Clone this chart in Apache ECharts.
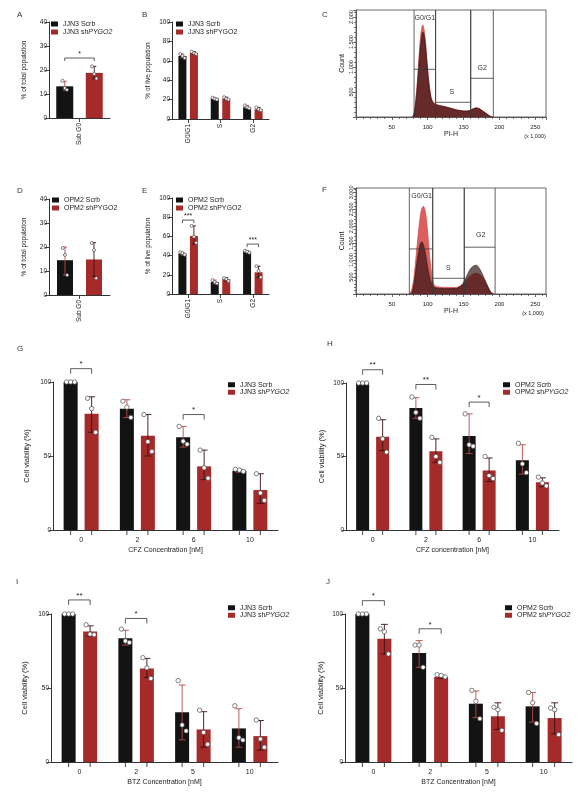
<!DOCTYPE html>
<html>
<head>
<meta charset="utf-8">
<script src="https://cdn.jsdelivr.net/npm/echarts@6/dist/echarts.min.js"></script>
<style>html,body{margin:0;padding:0;background:#ffffff;}#chart{width:581px;height:800px;}</style>
</head>
<body>
<div id="chart"></div>
<script>
// ===== categories / tick labels =====
const subG0Cats = ['Sub G0'];
const phaseCats = ['G0/G1', 'S', 'G2'];
const cfzCats = ['0', '2', '6', '10'];
const btzCats = ['0', '2', '5', '10'];
const namesJJN3 = ['JJN3 Scrb', 'JJN3 shPYGO2'];
const namesOPM2 = ['OPM2 Scrb', 'OPM2 shPYGO2'];

// ===== A: JJN3 Sub G0 (% of total population) =====
const aScrb = [13.2];
const aSh = [18.8];
const aScrbErr = [[11.5, 15.3]];
const aShErr = [[16.3, 21.5]];
const aScrbPts = [[15.5, 12.5, 11.8]];
const aShPts = [[21.5, 18.3, 16.5]];
const aSig = [[0, 25, '*']];

// ===== B: JJN3 cell cycle (% of live population) =====
const bScrb = [65, 21, 12];
const bSh = [68, 21, 10];
const bScrbErr = [[63, 67], [20, 22], [11, 14]];
const bShErr = [[67, 69.5], [20, 22.5], [9, 12]];
const bScrbPts = [[67, 65, 63], [22, 21, 20], [14, 12, 11]];
const bShPts = [[69.5, 68, 67], [22.5, 21, 20], [12, 10, 9]];

// ===== D: OPM2 Sub G0 =====
const dScrb = [14.5];
const dSh = [14.8];
const dScrbErr = [[8.3, 20]];
const dShErr = [[7.8, 21.8]];
const dScrbPts = [[19.6, 16.7, 8.3]];
const dShPts = [[21.7, 18.7, 7]];

// ===== E: OPM2 cell cycle =====
const eScrb = [42, 12.5, 44];
const eSh = [60.5, 15.5, 22.6];
const eScrbErr = [[40.5, 43.5], [10.5, 14.5], [43, 45]];
const eShErr = [[52, 71], [13.5, 17], [17, 29]];
const eScrbPts = [[43.5, 42.5, 41], [14.5, 12.5, 11], [45, 44, 43]];
const eShPts = [[71, 59.7, 53.4], [16.5, 15.5, 13.5], [29, 24, 17.5]];
const eSig = [[0, 77, '***'], [2, 52, '***']];

// ===== G: JJN3 CFZ viability =====
const gScrb = [100, 82, 62.6, 40];
const gSh = [78.5, 63.7, 43, 27];
const gScrbErr = [[100, 100], [76, 88], [56, 70], [39, 41]];
const gShErr = [[66, 90], [50, 78], [34, 54], [18, 38]];
const gScrbPts = [[100, 100, 100], [87, 83, 76], [70, 60, 58], [41, 40.5, 39.5]];
const gShPts = [[89, 82, 66], [78, 59.7, 53], [54, 42, 35], [38, 25, 20]];
const gSig = [[0, 109, '*'], [2, 78, '*']];

// ===== H: OPM2 CFZ viability =====
const hScrb = [100, 83, 64, 47.5];
const hSh = [63.5, 53.5, 40.5, 32.5];
const hScrbErr = [[100, 100], [76, 90], [52, 79], [38, 58]];
const hShErr = [[54, 75], [46, 62], [33, 49], [29.5, 35.5]];
const hScrbPts = [[100, 100, 100], [90.5, 80, 76], [79, 58, 57], [59, 45, 39]];
const hShPts = [[76, 62, 53], [63, 50, 46], [50, 37, 35], [36, 32, 30]];
const hSig = [[0, 109, '**'], [1, 99, '**'], [2, 87, '*']];

// ===== I: JJN3 BTZ viability =====
const iScrb = [100, 83.6, 33.6, 22.7];
const iSh = [88.2, 63.2, 22, 17.5];
const iScrbErr = [[100, 100], [79, 89], [15, 52], [10, 36]];
const iShErr = [[85, 92], [57, 70], [10, 34], [8, 28]];
const iScrbPts = [[100, 100, 100], [89.8, 81.8, 80.7], [55, 25, 21], [38, 16.4, 14.8]];
const iShPts = [[92.7, 86.4, 86], [70.5, 63.6, 56.4], [35, 20, 12], [28.4, 15.5, 10]];
const iSig = [[0, 109.5, '**'], [1, 97, '*']];

// ===== J: OPM2 BTZ viability =====
const jScrb = [100, 73.6, 39.4, 37.6];
const jSh = [83.3, 57.4, 30.9, 29.7];
const jScrbErr = [[100, 100], [64, 82], [30, 48], [27, 47]];
const jShErr = [[73, 93], [56.5, 58.5], [22, 40], [19, 40]];
const jScrbPts = [[100, 100, 100], [79, 79, 64], [48.4, 41, 29.3], [47, 40, 26]];
const jShPts = [[90, 88, 73], [59, 58.5, 57.5], [37, 35.4, 21.4], [36.5, 35.4, 18.5]];
const jSig = [[0, 109, '*'], [1, 90, '*']];

// ===== C: JJN3 PI histogram =====
const cBins = [79, 81, 83, 85, 87, 89, 91, 93, 95, 97, 99, 101, 103, 105, 107, 110, 115, 120, 125, 130, 135, 140, 145, 150, 155, 160, 164, 168, 172, 176, 180, 184, 188, 191];
const cScrbCounts = [0, 60, 250, 520, 900, 1280, 1550, 1700, 1640, 1420, 1080, 760, 520, 360, 300, 255, 230, 215, 200, 180, 160, 140, 128, 118, 118, 135, 165, 180, 165, 125, 85, 45, 10, 0];
const cShCounts = [0, 80, 300, 600, 1000, 1420, 1720, 1840, 1740, 1480, 1120, 790, 540, 375, 310, 265, 238, 222, 207, 187, 166, 146, 133, 122, 121, 138, 168, 184, 168, 128, 88, 47, 11, 0];
const cGates = [[81, 111, 954], [111, 160, 294], [160, 191.5, 774]];
const cGateLabels = [['G0/G1', 96, 1974], ['S', 133.5, 506], ['G2', 176, 974]];

// ===== F: OPM2 PI histogram =====
const fBins = [75, 78, 81, 84, 87, 90, 92, 94, 96, 98, 100, 102, 104, 106, 108, 110, 115, 120, 130, 140, 148, 152, 156, 160, 164, 168, 172, 176, 180, 184, 188, 192];
const fScrbCounts = [0, 30, 300, 800, 1200, 1500, 1540, 1450, 1290, 1050, 780, 560, 400, 290, 220, 185, 170, 165, 160, 165, 280, 430, 600, 750, 830, 850, 760, 600, 410, 220, 50, 0];
const fShCounts = [0, 150, 500, 1150, 1800, 2350, 2530, 2590, 2500, 2230, 1800, 1250, 850, 520, 330, 240, 205, 195, 190, 195, 260, 360, 460, 540, 590, 610, 580, 500, 360, 200, 60, 0];
const fGates = [[74.4, 107, 1331], [107, 151, 464], [151, 194, 1382]];
const fGateLabels = [['G0/G1', 91.6, 2879], ['S', 128.8, 760], ['G2', 174, 1746]];

// ===== styling / building =====
const FONT = '"Liberation Sans", Arial, sans-serif';
const BLACK = '#131313';
const RED = '#a52a2a';
const ERR_ON_BLACK = '#b84a4a';
const ERR_ON_RED = '#3a1010';
const TXT = '#222';

const grids = [], xAxes = [], yAxes = [], series = [], legends = [];

function errSeries(gi, err, pts, off, color, st) {
  return {
    type: 'custom', xAxisIndex: gi, yAxisIndex: gi, z: 4, silent: true, clip: false,
    data: err.map((e, i) => [i, e[0], e[1]]),
    renderItem: function (params, api) {
      const i = params.dataIndex;
      const lo = api.coord([i, err[i][0]]);
      const hi = api.coord([i, err[i][1]]);
      const x = lo[0] + off;
      const cw = st.cap;
      const ls = { stroke: color, lineWidth: 0.9 };
      const ch = [
        { type: 'line', shape: { x1: x, y1: lo[1], x2: x, y2: hi[1] }, style: ls },
        { type: 'line', shape: { x1: x - cw, y1: hi[1], x2: x + cw, y2: hi[1] }, style: ls },
        { type: 'line', shape: { x1: x - cw, y1: lo[1], x2: x + cw, y2: lo[1] }, style: ls }
      ];
      pts[i].forEach((v, k) => {
        const p = api.coord([i, v]);
        ch.push({ type: 'circle', shape: { cx: x + st.jit[k], cy: p[1], r: st.r },
          style: { fill: '#ffffff', stroke: '#4a4a4a', lineWidth: 0.7 } });
      });
      return { type: 'group', children: ch };
    }
  };
}

function sigSeries(gi, sig, d, leg, fs) {
  return {
    type: 'custom', xAxisIndex: gi, yAxisIndex: gi, z: 5, silent: true, clip: false,
    data: sig.map(s => [s[0], s[1]]),
    renderItem: function (params, api) {
      const s = sig[params.dataIndex];
      const p = api.coord([s[0], s[1]]);
      const x1 = p[0] - d / 2, x2 = p[0] + d / 2, y = p[1];
      return { type: 'group', children: [
        { type: 'polyline', shape: { points: [[x1, y + leg], [x1, y], [x2, y], [x2, y + leg]] },
          style: { stroke: '#333', lineWidth: 0.8, fill: null } },
        { type: 'text', style: { text: s[2], x: (x1 + x2) / 2, y: y - 0.5, align: 'center', verticalAlign: 'bottom',
          fontSize: fs, fontFamily: FONT, fill: TXT } }
      ] };
    }
  };
}

function barTickSeries(gi, cats, d) {
  return {
    type: 'custom', xAxisIndex: gi, yAxisIndex: gi, z: 1, silent: true, clip: false,
    data: cats.map((c, i) => [i, 0]),
    renderItem: function (params, api) {
      const p = api.coord([params.dataIndex, 0]);
      return { type: 'group', children: [-1, 1].map(sg => ({
        type: 'line', shape: { x1: p[0] + sg * d / 2, y1: p[1], x2: p[0] + sg * d / 2, y2: p[1] + 5 },
        style: { stroke: '#333', lineWidth: 0.9 } })) };
    }
  };
}

function addLegend(names, left, top, italic, lh) {
  legends.push({
    data: names, left: left, top: top, orient: 'vertical', padding: 0, itemGap: 0,
    itemWidth: 7, itemHeight: 5, icon: 'rect', selectedMode: false,
    formatter: function (name) {
      if (italic && name.endsWith('PYGO2')) return '{n|' + name.slice(0, -5) + '}{i|PYGO2}';
      return '{n|' + name + '}';
    },
    textStyle: { fontFamily: FONT, fontSize: 7, color: TXT, lineHeight: lh,
      rich: { n: { fontFamily: FONT, fontSize: 7, color: TXT, lineHeight: lh },
              i: { fontFamily: FONT, fontSize: 7, color: TXT, lineHeight: lh, fontStyle: 'italic' } } }
  });
}

function addBarPanel(c) {
  const gi = grids.length;
  grids.push({ left: c.left, top: c.top, width: c.width, height: c.height, containLabel: false, outerBoundsMode: 'none' });
  xAxes.push({
    gridIndex: gi, type: 'category', data: c.cats,
    name: c.xName || '', nameLocation: 'middle', nameGap: 17,
    nameTextStyle: { fontFamily: FONT, fontSize: 7, color: TXT },
    axisLine: { show: true, lineStyle: { color: '#333', width: 1 } },
    axisTick: { show: !c.barTicks, alignWithLabel: true, length: 4, lineStyle: { color: '#333', width: 0.9 } },
    axisLabel: { fontFamily: FONT, fontSize: c.small ? 6.5 : 7, color: TXT, rotate: c.small ? 90 : 0,
      margin: c.small ? 5 : 7, interval: 0 },
    splitLine: { show: false }
  });
  yAxes.push({
    gridIndex: gi, type: 'value', min: 0, max: c.ymax, interval: c.yint,
    name: c.yName, nameLocation: 'middle', nameGap: c.yNameGap,
    nameTextStyle: { fontFamily: FONT, fontSize: c.small ? 6.5 : 7.5, color: TXT },
    axisLine: { show: true, lineStyle: { color: '#333', width: 1 } },
    axisTick: { show: true, length: 4, lineStyle: { color: '#333', width: 0.9 } },
    axisLabel: { fontFamily: FONT, fontSize: 6.5, color: TXT, margin: 2 },
    splitLine: { show: false }
  });
  const gap = ((c.d - c.bw) / c.bw * 100) + '%';
  series.push({ type: 'bar', name: c.names[0], xAxisIndex: gi, yAxisIndex: gi, data: c.scrb,
    barWidth: c.bw, barGap: gap, itemStyle: { color: BLACK }, z: 2, silent: true });
  series.push({ type: 'bar', name: c.names[1], xAxisIndex: gi, yAxisIndex: gi, data: c.sh,
    barWidth: c.bw, barGap: gap, itemStyle: { color: RED }, z: 2, silent: true });
  const st = c.small ? { cap: 2, r: 1.5, jit: [-2.2, 0, 2.2] } : { cap: 3.5, r: 2.2, jit: [-4, 0, 4] };
  series.push(errSeries(gi, c.scrbErr, c.scrbPts, -c.d / 2, ERR_ON_BLACK, st));
  series.push(errSeries(gi, c.shErr, c.shPts, c.d / 2, ERR_ON_RED, st));
  if (c.sig) series.push(sigSeries(gi, c.sig, c.d, c.small ? 3 : 5, c.small ? 7 : 8));
  if (c.barTicks) series.push(barTickSeries(gi, c.cats, c.d));
}

function addHistPanel(c) {
  const gi = grids.length;
  grids.push({ left: c.left, top: c.top, width: c.width, height: c.height, containLabel: false, outerBoundsMode: 'none',
    show: true, borderColor: '#444', borderWidth: 0.8, backgroundColor: 'rgba(0,0,0,0)' });
  xAxes.push({
    gridIndex: gi, type: 'value', min: 0, max: 265, interval: 50,
    name: 'PI-H', nameLocation: 'middle', nameGap: 12,
    nameTextStyle: { fontFamily: FONT, fontSize: 7, color: TXT },
    axisLine: { show: true, lineStyle: { color: '#444', width: 0.8 } },
    axisTick: { show: true, length: 3, lineStyle: { color: '#444', width: 0.8 } },
    minorTick: { show: true, splitNumber: 5, length: 2, lineStyle: { color: '#444', width: 0.7 } },
    axisLabel: { fontFamily: FONT, fontSize: 6, color: TXT, margin: 7, showMinLabel: false, showMaxLabel: false },
    splitLine: { show: false }, minorSplitLine: { show: false }
  });
  yAxes.push({
    gridIndex: gi, type: 'value', min: 0, max: c.ymax, interval: 500,
    name: 'Count', nameLocation: 'middle', nameGap: 10,
    nameTextStyle: { fontFamily: FONT, fontSize: 7, color: TXT },
    axisLine: { show: true, lineStyle: { color: '#444', width: 0.8 } },
    axisTick: { show: true, length: 3, lineStyle: { color: '#444', width: 0.8 } },
    minorTick: { show: true, splitNumber: 5, length: 2, lineStyle: { color: '#444', width: 0.7 } },
    axisLabel: { fontFamily: FONT, fontSize: 5.5, color: TXT, margin: 2, rotate: 90,
      showMinLabel: false, showMaxLabel: false,
      formatter: v => v.toLocaleString('en-US') },
    splitLine: { show: false }, minorSplitLine: { show: false }
  });
  series.push({ type: 'line', xAxisIndex: gi, yAxisIndex: gi, data: c.bins.map((x, i) => [x, c.sh[i]]),
    symbol: 'none', showSymbol: false, smooth: 0.25, silent: true, z: 2,
    lineStyle: { color: '#d84a4a', width: 0.8 }, areaStyle: { color: '#dc5f5f', opacity: 1 } });
  series.push({ type: 'line', xAxisIndex: gi, yAxisIndex: gi, data: c.bins.map((x, i) => [x, c.scrb[i]]),
    symbol: 'none', showSymbol: false, smooth: 0.25, silent: true, z: 3,
    lineStyle: { color: '#2a1515', width: 0.6 }, areaStyle: { color: 'rgba(45,18,18,0.68)', opacity: 1 } });
  const gates = c.gates, ymax = c.ymax;
  series.push({
    type: 'custom', xAxisIndex: gi, yAxisIndex: gi, z: 6, silent: true, clip: false,
    data: gates.map(g => [g[0], g[2]]),
    renderItem: function (params, api) {
      const g = gates[params.dataIndex];
      const a0 = api.coord([g[0], 0]), a1 = api.coord([g[0], ymax]);
      const b0 = api.coord([g[1], 0]), b1 = api.coord([g[1], ymax]);
      const h = api.coord([g[0], g[2]])[1];
      const ls = { stroke: '#3a3a3a', lineWidth: 0.8 };
      return { type: 'group', children: [
        { type: 'line', shape: { x1: a0[0], y1: a0[1], x2: a1[0], y2: a1[1] }, style: ls },
        { type: 'line', shape: { x1: b0[0], y1: b0[1], x2: b1[0], y2: b1[1] }, style: ls },
        { type: 'line', shape: { x1: a0[0], y1: h, x2: b0[0], y2: h }, style: ls }
      ] };
    }
  });
  const labs = c.labels;
  series.push({
    type: 'custom', xAxisIndex: gi, yAxisIndex: gi, z: 7, silent: true, clip: false,
    data: labs.map(l => [l[1], l[2]]),
    renderItem: function (params, api) {
      const l = labs[params.dataIndex];
      const p = api.coord([l[1], l[2]]);
      return { type: 'text', style: { text: l[0], x: p[0], y: p[1], align: 'center', verticalAlign: 'middle',
        fontSize: 7, fontFamily: FONT, fill: '#333' } };
    }
  });
}

// --- panels ---
addBarPanel({ left: 49, top: 22, width: 61, height: 96, cats: subG0Cats, names: namesJJN3, small: true,
  ymax: 40, yint: 10, yName: '% of total population', yNameGap: 21, bw: 17, d: 29.5,
  scrb: aScrb, sh: aSh, scrbErr: aScrbErr, shErr: aShErr, scrbPts: aScrbPts, shPts: aShPts, sig: aSig });
addBarPanel({ left: 172, top: 22, width: 97, height: 97, cats: phaseCats, names: namesJJN3, small: true,
  ymax: 100, yint: 20, yName: '% of live population', yNameGap: 20, bw: 8, d: 11.5,
  scrb: bScrb, sh: bSh, scrbErr: bScrbErr, shErr: bShErr, scrbPts: bScrbPts, shPts: bShPts });
addBarPanel({ left: 49, top: 199, width: 61, height: 96, cats: subG0Cats, names: namesOPM2, small: true,
  ymax: 40, yint: 10, yName: '% of total population', yNameGap: 21, bw: 16, d: 29,
  scrb: dScrb, sh: dSh, scrbErr: dScrbErr, shErr: dShErr, scrbPts: dScrbPts, shPts: dShPts });
addBarPanel({ left: 172, top: 198, width: 97, height: 96, cats: phaseCats, names: namesOPM2, small: true,
  ymax: 100, yint: 20, yName: '% of live population', yNameGap: 20, bw: 8, d: 11.5,
  scrb: eScrb, sh: eSh, scrbErr: eScrbErr, shErr: eShErr, scrbPts: eScrbPts, shPts: eShPts, sig: eSig });
addBarPanel({ left: 53, top: 382, width: 225, height: 148, cats: cfzCats, names: namesJJN3, barTicks: true,
  ymax: 100, yint: 50, yName: 'Cell viability (%)', yNameGap: 22, xName: 'CFZ Concentration [nM]', bw: 14, d: 21,
  scrb: gScrb, sh: gSh, scrbErr: gScrbErr, shErr: gShErr, scrbPts: gScrbPts, shPts: gShPts, sig: gSig });
addBarPanel({ left: 346, top: 383, width: 213, height: 147, cats: cfzCats, names: namesOPM2, barTicks: true,
  ymax: 100, yint: 50, yName: 'Cell viability (%)', yNameGap: 20, xName: 'CFZ concentration [nM]', bw: 13, d: 20,
  scrb: hScrb, sh: hSh, scrbErr: hScrbErr, shErr: hShErr, scrbPts: hScrbPts, shPts: hShPts, sig: hSig });
addBarPanel({ left: 51, top: 614, width: 227, height: 148, cats: btzCats, names: namesJJN3, barTicks: true,
  ymax: 100, yint: 50, yName: 'Cell viability (%)', yNameGap: 22, xName: 'BTZ Concentration [nM]', bw: 14, d: 21.5,
  scrb: iScrb, sh: iSh, scrbErr: iScrbErr, shErr: iShErr, scrbPts: iScrbPts, shPts: iShPts, sig: iSig });
addBarPanel({ left: 345, top: 614, width: 227, height: 148, cats: btzCats, names: namesOPM2, barTicks: true,
  ymax: 100, yint: 50, yName: 'Cell viability (%)', yNameGap: 20, xName: 'BTZ Concentration [nM]', bw: 14, d: 22,
  scrb: jScrb, sh: jSh, scrbErr: jScrbErr, shErr: jShErr, scrbPts: jScrbPts, shPts: jShPts, sig: jSig });
addHistPanel({ left: 356, top: 10, width: 190, height: 107, ymax: 2140,
  bins: cBins, scrb: cScrbCounts, sh: cShCounts, gates: cGates, labels: cGateLabels });
addHistPanel({ left: 356, top: 188, width: 190, height: 106, ymax: 3130,
  bins: fBins, scrb: fScrbCounts, sh: fShCounts, gates: fGates, labels: fGateLabels });

addLegend(namesJJN3, 51, 20, true, 8);
addLegend(namesJJN3, 176, 20, false, 8);
addLegend(namesOPM2, 52, 196, false, 8);
addLegend(namesOPM2, 176, 196, false, 8);
addLegend(namesJJN3, 228, 381, true, 7.5);
addLegend(namesOPM2, 503, 381, true, 7.5);
addLegend(namesJJN3, 228, 604, true, 7.5);
addLegend(namesOPM2, 505, 604, true, 7.5);

const panelLetters = [['A', 17, 15], ['B', 142, 15], ['C', 322, 15], ['D', 17, 191], ['E', 142, 191],
  ['F', 322, 190], ['G', 17, 349], ['H', 327, 344], ['I', 16, 582], ['J', 326, 582]];
const graphics = panelLetters.map(p => ({ type: 'text', x: p[1], y: p[2],
  style: { text: p[0], fontSize: 8, fontFamily: FONT, fill: '#333', verticalAlign: 'middle' } }));
graphics.push({ type: 'text', x: 535, y: 136, style: { text: '(x 1,000)', fontSize: 5.5, fontFamily: FONT, fill: TXT, align: 'center', verticalAlign: 'middle' } });
graphics.push({ type: 'text', x: 533, y: 313, style: { text: '(x 1,000)', fontSize: 5.5, fontFamily: FONT, fill: TXT, align: 'center', verticalAlign: 'middle' } });

const chart = echarts.init(document.getElementById('chart'), null, { renderer: 'canvas' });
chart.setOption({
  animation: false,
  backgroundColor: '#ffffff',
  textStyle: { fontFamily: FONT },
  grid: grids, xAxis: xAxes, yAxis: yAxes, series: series, legend: legends,
  graphic: graphics,
  tooltip: { show: false }
});
</script>
</body>
</html>
